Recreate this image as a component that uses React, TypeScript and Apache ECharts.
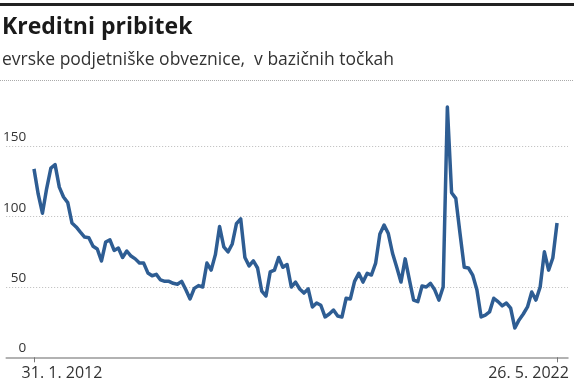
import React, { useEffect, useRef } from "react";
import * as echarts from "echarts";

const titleText = "Kreditni pribitek";
const subtitleText = "evrske podjetniške obveznice,  v bazi\u010dnih to\u010dkah";
const dateLabels = ["31. 1. 2012", "26. 5. 2022"];
const yTicks = [0, 50, 100, 150];

// monthly values, Jan 2012 – May 2022 (basis points)
const spread = [
  134, 116, 102.5, 120, 134.6, 137, 121, 114, 110, 95.5,
  92.7, 89, 85.5, 85, 79, 77, 68.5, 82, 83.5, 76,
  77.7, 71, 75.6, 72, 70, 67, 67, 60, 58, 59,
  55, 54, 54, 52.6, 52, 54, 48, 41.5, 49, 51,
  50, 67, 62, 73, 93, 78.5, 75, 80.6, 95, 98.5,
  71, 65, 68.6, 63.5, 47, 43.6, 60.7, 62, 71, 64,
  66, 50, 53.5, 48.6, 45.7, 48.6, 35.8, 38.6, 37, 28.7,
  30.8, 33.6, 29.4, 28.6, 42, 41.5, 54, 59.7, 53.5, 59.7,
  58.5, 67, 87.7, 94, 88, 74, 64, 53.5, 70, 55,
  40.7, 39.6, 50.7, 50, 52.6, 48, 40.7, 50, 178, 117,
  113, 88, 64, 63.5, 58.5, 48, 28.7, 30, 32.3, 42,
  39.6, 36.6, 38.6, 35, 20.8, 26.6, 30.8, 35.8, 46.4, 40.7,
  50, 75, 62, 70.6, 95.5,
];

export default function App() {
  const ref = useRef<HTMLDivElement>(null);
  useEffect(() => {
    if (!ref.current) return;
    const chart = echarts.init(ref.current, undefined, { renderer: "svg" });
    const last = spread.length - 1;
    const font = "'Open Sans', sans-serif";
    chart.setOption({
      animation: false,
      title: {
        text: titleText,
        subtext: subtitleText,
        left: 2,
        top: 11,
        padding: 0,
        itemGap: 8,
        textStyle: { fontFamily: font, fontSize: 23, fontWeight: "bold", color: "#1a1a1a", lineHeight: 28 },
        subtextStyle: { fontFamily: font, fontSize: 17.5, color: "#333", lineHeight: 22 },
      },
      graphic: [
        { type: "rect", left: 0, top: 3, shape: { width: 574, height: 3 }, style: { fill: "#222" } },
        {
          type: "line",
          shape: { x1: 0, y1: 80.5, x2: 574, y2: 80.5 },
          style: { stroke: "#aaa", lineWidth: 1, lineDash: [1, 1] },
        },
      ],
      grid: { left: 3, right: 6, top: 104.2, bottom: 26.7 },
      xAxis: {
        type: "value",
        min: -6.6,
        max: 126.6,
        splitLine: { show: false },
        axisLine: { show: true, lineStyle: { color: "#999", width: 1.5 } },
        axisTick: { show: true, customValues: [0, last], length: 5, lineStyle: { color: "#777", width: 1 } },
        axisLabel: {
          customValues: [0, last],
          margin: 7,
          fontFamily: font,
          fontSize: 16,
          color: "#333",
          formatter: (v: number) => (v === 0 ? `{a|${dateLabels[0]}}` : `{b|${dateLabels[1]}}`),
          rich: {
            a: { fontFamily: font, fontSize: 16, color: "#333", padding: [0, 0, 0, 56] },
            b: { fontFamily: font, fontSize: 16, color: "#333", padding: [0, 57, 0, 0] },
          },
        },
      },
      yAxis: {
        type: "value",
        min: 0,
        max: 180,
        interval: 50,
        axisLine: { show: false },
        axisTick: { show: false },
        splitLine: {
          show: true,
          showMaxLine: false,
          showMinLine: false,
          lineStyle: { color: "#bbb", type: [1, 2], width: 1 },
        },
        axisLabel: {
          inside: true,
          margin: 20,
          align: "right",
          verticalAlign: "bottom",
          lineHeight: 14,
          padding: [0, 0, 3, 0],
          showMaxLabel: false,
          fontFamily: font,
          fontSize: 13.5,
          color: "#333",
          formatter: (v: number) => (yTicks.includes(v) ? String(v) : ""),
        },
      },
      series: [
        {
          type: "line",
          data: spread.map((v, i) => [i, v]),
          showSymbol: false,
          symbol: "none",
          lineStyle: { color: "#2e5d93", width: 3.5, join: "round" },
        },
      ],
    });
    return () => chart.dispose();
  }, []);
  return <div ref={ref} style={{ position: "fixed", left: 0, top: 0, width: 574, height: 384 }} />;
}
